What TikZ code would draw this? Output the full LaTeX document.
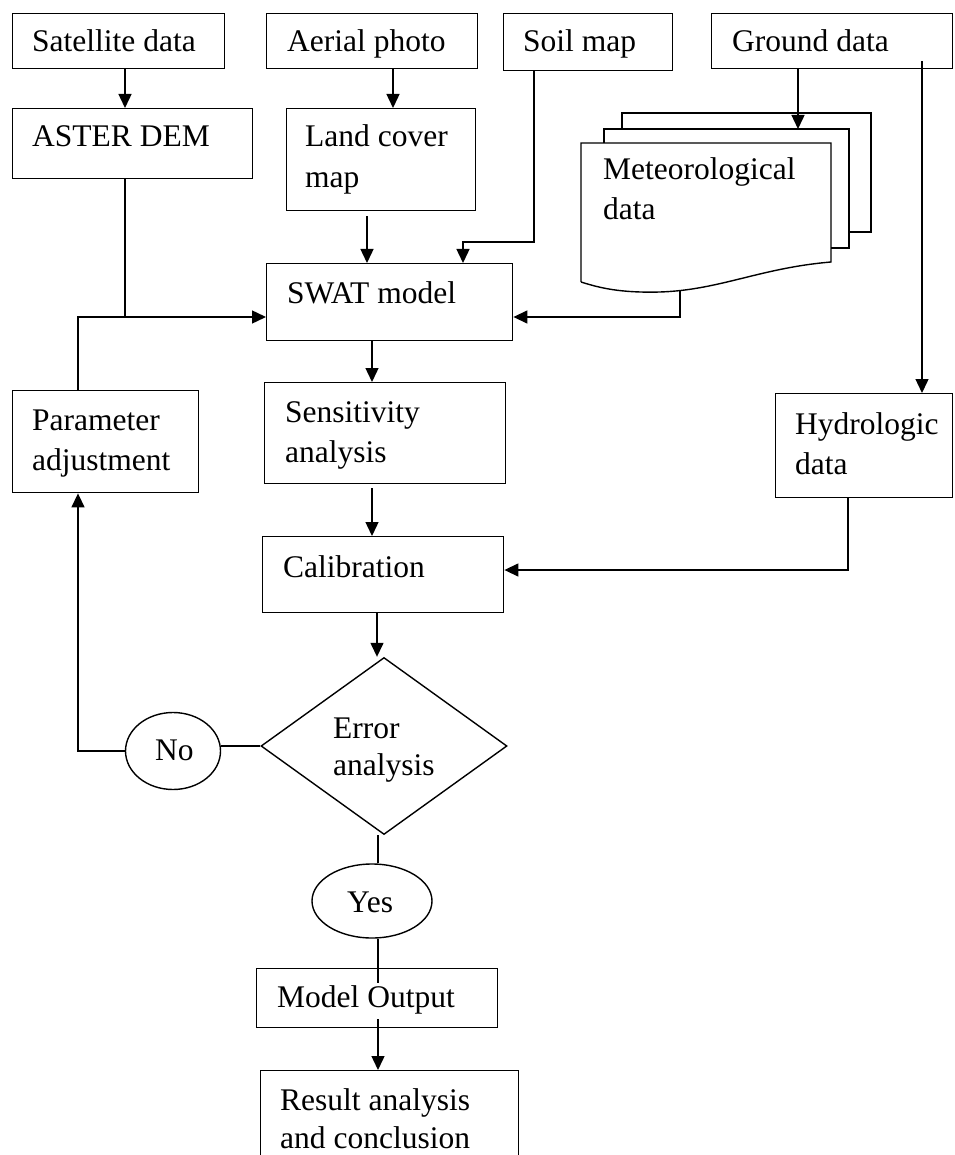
\documentclass[tikz,border=0pt]{standalone}
\usepackage{fontspec}
\setmainfont{Liberation Serif}
\usetikzlibrary{arrows.meta,shapes.geometric,calc}
\begin{document}
\begin{tikzpicture}[x=1pt,y=-1pt,
 box/.style={draw,line width=1.4pt,inner sep=0pt,anchor=north west},
 oval/.style={draw,ellipse,line width=1.4pt,inner sep=0pt},
 txt/.style={inner sep=0pt,anchor=base west,font=\fontsize{31.5}{41}\selectfont},
 ln/.style={line width=1.4pt},
 arr/.style={line width=1.4pt,-{Triangle[length=14pt,width=13pt]}}]
\useasboundingbox (0,0) rectangle (954,1155);
\clip (0,0) rectangle (954,1155);
% boxes
\node[box,minimum width=212,minimum height=55] (sat) at (12,13) {};
\node[box,minimum width=211,minimum height=55] (aer) at (266,13) {};
\node[box,minimum width=169,minimum height=57] (soil) at (503,13) {};
\node[box,minimum width=241,minimum height=55] (gnd) at (711,13) {};
\node[box,minimum width=240,minimum height=70] (aster) at (12,108) {};
\node[box,minimum width=189,minimum height=102] (land) at (286,108) {};
\node[box,minimum width=246,minimum height=77] (swat) at (266,263) {};
\node[box,minimum width=241,minimum height=101] (sens) at (264,382) {};
\node[box,minimum width=186,minimum height=102] (param) at (12,390) {};
\node[box,minimum width=177,minimum height=104] (hydro) at (775,393) {};
\node[box,minimum width=241,minimum height=76] (calib) at (262,536) {};
\node[box,minimum width=241,minimum height=59] (model) at (256,968) {};
\node[box,minimum width=258,minimum height=120] (result) at (260,1070) {};
\node[draw,diamond,line width=1.4pt,inner sep=0pt,minimum width=246,minimum height=177] (dia) at (384,746) {};
\node[oval,minimum width=95,minimum height=77] (no) at (173,751) {};
\node[oval,minimum width=120,minimum height=74] (yes) at (372,901) {};
% meteorological document stack
\draw[ln] (622,129) -- (622,113) -- (871,113) -- (871,232) -- (849,232);
\draw[ln] (604,143) -- (604,129) -- (849,129) -- (849,248) -- (831,248);
\draw[ln] (581,282) -- (581,143) -- (831,143) -- (831,262)
  .. controls (760,268) and (720,290) .. (660,292)
  .. controls (620,293) and (600,288) .. (581,282);
\coordinate (metin) at (798,129);
\coordinate (metout) at (680,291);
% texts
\node[txt] (t1) at (32,52) {Satellite data};
\node[txt] (t2) at (287,52) {Aerial photo};
\node[txt] (t3) at (523,52) {Soil map};
\node[txt] (t4) at (732,52) {Ground data};
\node[txt] (t5) at (32,147) {ASTER DEM};
\node[txt] (t6) at (305,147) {Land cover};
\node[txt] (t7) at (305,188) {map};
\node[txt] (t8) at (287,303) {SWAT model};
\node[txt] (t9) at (603,180) {Meteorological};
\node[txt] (t10) at (603,220) {data};
\node[txt] (t11) at (285,422) {Sensitivity};
\node[txt] (t12) at (285,462) {analysis};
\node[txt] (t13) at (32,430) {Parameter};
\node[txt] (t14) at (32,470) {adjustment};
\node[txt] (t15) at (795,434) {Hydrologic};
\node[txt] (t16) at (795,474) {data};
\node[txt] (t17) at (283,577) {Calibration};
\node[txt] (t18) at (333,738) {Error};
\node[txt] (t19) at (333,775) {analysis};
\node[txt] (t20) at (155,760) {No};
\node[txt] (t21) at (347,912) {Yes};
\node[txt] (t22) at (277,1007) {Model Output};
\node[txt] (t23) at (280,1110) {Result analysis};
\node[txt] (t24) at (280,1148) {and conclusion};
% connectors
\coordinate (jn) at (78,317);
\coordinate (sb) at (534,242);
\coordinate (hb) at (848,570);
\draw[arr] (125,0 |- sat.south) -- (125,0 |- aster.north);
\draw[arr] (393,0 |- aer.south) -- (393,0 |- land.north);
\draw[ln] (125,0 |- aster.south) -- (125,0 |- jn);
\draw[arr] (78,0 |- param.north) -- (jn) -- (jn -| swat.west);
\draw[arr] ($(367,0 |- land.south)+(0,5)$) -- (367,0 |- swat.north);
\draw[arr] (sb |- soil.south) -- (sb) -| (463,0 |- swat.north);
\draw[arr] (798,0 |- gnd.south) -- (metin);
\draw[arr] (metout) -- (metout |- jn) -- (jn -| swat.east);
\draw[arr] ($(922,0 |- gnd.south)+(0,-8)$) -- (922,0 |- hydro.north);
\draw[arr] (hb |- hydro.south) -- (hb) -- (hb -| calib.east);
\draw[arr] (372,0 |- swat.south) -- (372,0 |- sens.north);
\draw[arr] ($(372,0 |- sens.south)+(0,4)$) -- (372,0 |- calib.north);
\draw[arr] (377,0 |- calib.south) -- (377,0 |- dia.north);
\draw[ln] (dia.west) -- (dia.west -| no.east);
\draw[arr] (no.west) -| ($(param.south west)+(66,0)$);
\draw[ln] (378,0 |- dia.south) -- (378,0 |- yes.north);
\draw[ln] (378,0 |- yes.south) -- ($(378,0 |- model.north)+(0,15)$);
\draw[arr] ($(378,0 |- model.south)+(0,-9)$) -- (378,0 |- result.north);
\end{tikzpicture}
\end{document}
